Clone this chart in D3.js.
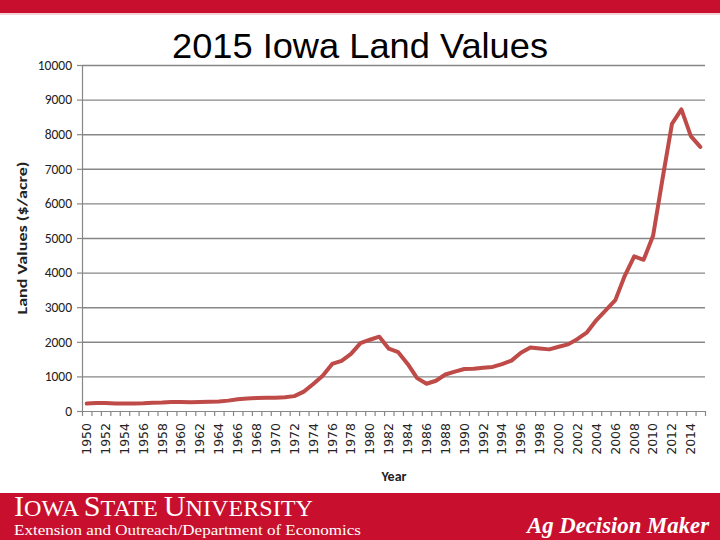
<!DOCTYPE html>
<html>
<head>
<meta charset="utf-8">
<script src="https://cdn.jsdelivr.net/npm/d3@7"></script>
<style>
  html, body { margin: 0; padding: 0; background: #fff; }
  svg { display: block; }
</style>
</head>
<body>
<svg id="chart" width="720" height="540"></svg>
<script>
// ---- data ----
const years = d3.range(1950, 2016);
const landValues = [
  215, 230, 232, 220, 215, 218, 222, 235, 245, 262,
  258, 255, 260, 265, 275, 300, 338, 360, 375, 382,
  385, 395, 430, 560, 780, 1020, 1360, 1450, 1650, 1960,
  2060, 2147, 1800, 1700, 1360, 950, 787, 875, 1054, 1139,
  1214, 1219, 1249, 1275, 1356, 1455, 1682, 1837, 1808, 1781,
  1857, 1926, 2083, 2275, 2629, 2914, 3204, 3908, 4468, 4371,
  5064, 6708, 8296, 8716, 7943, 7633
];
const yTicks = [0, 1000, 2000, 3000, 4000, 5000, 6000, 7000, 8000, 9000, 10000];
const xTickLabels = years.filter(y => y % 2 === 0);
const titleText = "2015 Iowa Land Values";
const yTitle = "Land Values ($/acre)";
const xTitle = "Year";

(function () {
// ---- layout ----
const svg = d3.select("#chart");
const pL = 82, pR = 705, pT = 65, pB = 411;
const red = "#C8102E";

// header / footer bars
svg.append("rect").attr("x", 0).attr("y", 0).attr("width", 720).attr("height", 13).attr("fill", red);
svg.append("rect").attr("x", 0).attr("y", 13).attr("width", 720).attr("height", 2).attr("fill", "#f3d3d8");
svg.append("rect").attr("x", 0).attr("y", 493).attr("width", 720).attr("height", 47).attr("fill", red);

const x = d3.scaleBand().domain(years).range([pL, pR]).paddingInner(0).paddingOuter(0);
const xl = d3.scaleLinear().domain([0, years.length]).range([pL, pR]);
const y = d3.scaleLinear().domain([0, 10000]).range([pB, pT]);

// gridlines
const grid = svg.append("g").attr("transform", `translate(${pL},0)`)
  .call(d3.axisLeft(y).tickValues(yTicks.slice(1)).tickSize(-(pR - pL)).tickFormat(""));
grid.select(".domain").remove();
grid.selectAll("line").attr("stroke", "#878787").attr("stroke-width", 1.4);

// y axis
const ya = svg.append("g").attr("transform", `translate(${pL},0)`)
  .call(d3.axisLeft(y).tickValues(yTicks).tickFormat(d3.format("d")).tickSize(5).tickPadding(5).tickSizeOuter(0));
ya.select(".domain").attr("stroke", "#878787").attr("stroke-width", 1.2);
ya.selectAll("line").attr("stroke", "#878787").attr("stroke-width", 1.2);
ya.selectAll("text").attr("font-family", "Carlito, Calibri, Lato, sans-serif").attr("font-size", 13.5).attr("fill", "#222");

// x axis: tick marks at band boundaries
const xa = svg.append("g").attr("transform", `translate(0,${pB})`)
  .call(d3.axisBottom(xl).tickValues(d3.range(0, years.length + 1)).tickSize(5).tickFormat("").tickSizeOuter(0));
xa.select(".domain").attr("stroke", "#878787").attr("stroke-width", 1.2);
xa.selectAll("line").attr("stroke", "#878787").attr("stroke-width", 1.2);

// x labels
const xlab = svg.append("g").attr("transform", `translate(0,${pB})`)
  .call(d3.axisBottom(x).tickValues(xTickLabels).tickSize(0).tickPadding(0));
xlab.select(".domain").remove();
xlab.selectAll("text")
  .attr("font-family", "DejaVu Sans, sans-serif").attr("font-size", 12.5).attr("fill", "#222")
  .attr("text-anchor", "end")
  .attr("transform", "rotate(-90)")
  .attr("x", -12).attr("y", 0).attr("dy", "0.35em");

// line
const line = d3.line().x((d, i) => x(years[i]) + x.bandwidth() / 2).y(d => y(d));
svg.append("path").datum(landValues)
  .attr("d", line).attr("fill", "none").attr("stroke", "#BE4B48")
  .attr("stroke-width", 4).attr("stroke-linejoin", "round").attr("stroke-linecap", "round");

// title
svg.append("text").attr("x", 360).attr("y", 58).attr("text-anchor", "middle")
  .attr("font-family", "Liberation Sans, Arial, sans-serif").attr("font-size", 35)
  .attr("fill", "#000").attr("textLength", 376).attr("lengthAdjust", "spacingAndGlyphs").text(titleText);

// axis titles
svg.append("text").attr("transform", "translate(27,238) rotate(-90)").attr("text-anchor", "middle")
  .attr("font-family", "Carlito, Calibri, Lato, sans-serif").attr("font-weight", "bold").attr("font-size", 14.5)
  .attr("fill", "#222").attr("textLength", 153).attr("lengthAdjust", "spacingAndGlyphs").text(yTitle);
svg.append("text").attr("x", 394).attr("y", 481).attr("text-anchor", "middle")
  .attr("font-family", "Carlito, Calibri, Lato, sans-serif").attr("font-weight", "bold").attr("font-size", 14)
  .attr("fill", "#222").text(xTitle);

// footer texts
const isu = svg.append("text").attr("x", 14).attr("y", 516)
  .attr("font-family", "Liberation Serif, Times New Roman, serif").attr("fill", "#fff")
  .attr("textLength", 299).attr("lengthAdjust", "spacingAndGlyphs");
[["I", 30], ["OWA ", 24], ["S", 30], ["TATE ", 24], ["U", 30], ["NIVERSITY", 24]].forEach(([t, s]) => {
  isu.append("tspan").attr("font-size", s).text(t);
});
svg.append("text").attr("x", 14).attr("y", 535)
  .attr("font-family", "Liberation Serif, Times New Roman, serif").attr("font-size", 14).attr("fill", "#fff")
  .attr("textLength", 347).attr("lengthAdjust", "spacingAndGlyphs")
  .text("Extension and Outreach/Department of Economics");
svg.append("text").attr("x", 527).attr("y", 533)
  .attr("font-family", "Liberation Serif, Times New Roman, serif").attr("font-size", 24)
  .attr("font-style", "italic").attr("font-weight", "bold").attr("fill", "#fff")
  .attr("textLength", 182).attr("lengthAdjust", "spacingAndGlyphs")
  .text("Ag Decision Maker");
})();
</script>
</body>
</html>
